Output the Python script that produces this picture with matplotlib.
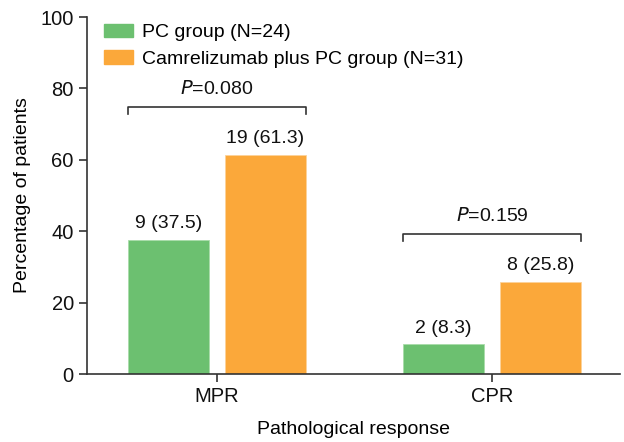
import numpy as np
import matplotlib.pyplot as plt
from matplotlib.patches import Patch

categories = ['MPR', 'CPR']
pc_values = [37.5, 8.3]
cam_values = [61.3, 25.8]
pc_labels = ['9 (37.5)', '2 (8.3)']
cam_labels = ['19 (61.3)', '8 (25.8)']
p_labels = ['0.080', '0.159']
p_heights = [74.8, 39.2]
series_names = ['PC group (N=24)', 'Camrelizumab plus PC group (N=31)']

green = '#6cc070'
orange = '#fba83a'
dark = '#333333'

plt.rcParams['font.family'] = ['Liberation Sans', 'DejaVu Sans']
plt.rcParams['font.size'] = 14

fig = plt.figure(figsize=(6.24, 4.42), dpi=100)
ax = fig.add_axes([0.1394, 0.1538, 0.8542, 0.8077])

x = np.arange(len(categories))
w = 0.295
off = 0.176
ax.bar(x - off, pc_values, w, color=green, edgecolor='#a8dca9', linewidth=0.6)
ax.bar(x + off, cam_values, w, color=orange, edgecolor='#fdd29a', linewidth=0.6)

for i in range(len(categories)):
    ax.text(x[i] - off, pc_values[i] + 2.2, pc_labels[i], ha='center', va='bottom', color='#111111')
    ax.text(x[i] + off, cam_values[i] + 2.2, cam_labels[i], ha='center', va='bottom', color='#111111')
    y = p_heights[i]
    x0 = x[i] - off - w / 2
    x1 = x[i] + off + w / 2
    ax.plot([x0, x0, x1, x1], [y - 2.0, y, y, y - 2.0], color=dark, lw=1.2)
    ax.text(x[i], y + 2.6, '$\\it{P}$=' + p_labels[i], ha='center', va='bottom', color='#111111')

ax.set_xlim(-0.473, 1.465)
ax.set_ylim(0, 100)
ax.set_yticks([0, 20, 40, 60, 80, 100])
ax.set_xticks(x)
ax.set_xticklabels(categories)
ax.set_ylabel('Percentage of patients', labelpad=7)
ax.set_xlabel('Pathological response', labelpad=11)

for s in ['top', 'right']:
    ax.spines[s].set_visible(False)
for s in ['left', 'bottom']:
    ax.spines[s].set_color(dark)
    ax.spines[s].set_linewidth(1.2)
ax.tick_params(colors=dark, labelcolor='#111111', width=1.2, length=6, labelsize=14.5)

handles = [Patch(color=green), Patch(color=orange)]
ax.legend(handles, series_names, loc='upper left', bbox_to_anchor=(0.0, 1.03),
          frameon=False, handlelength=1.45, handleheight=0.7, handletextpad=0.5,
          labelspacing=0.45, fontsize=14)

fig.savefig('out.png', dpi=100)
